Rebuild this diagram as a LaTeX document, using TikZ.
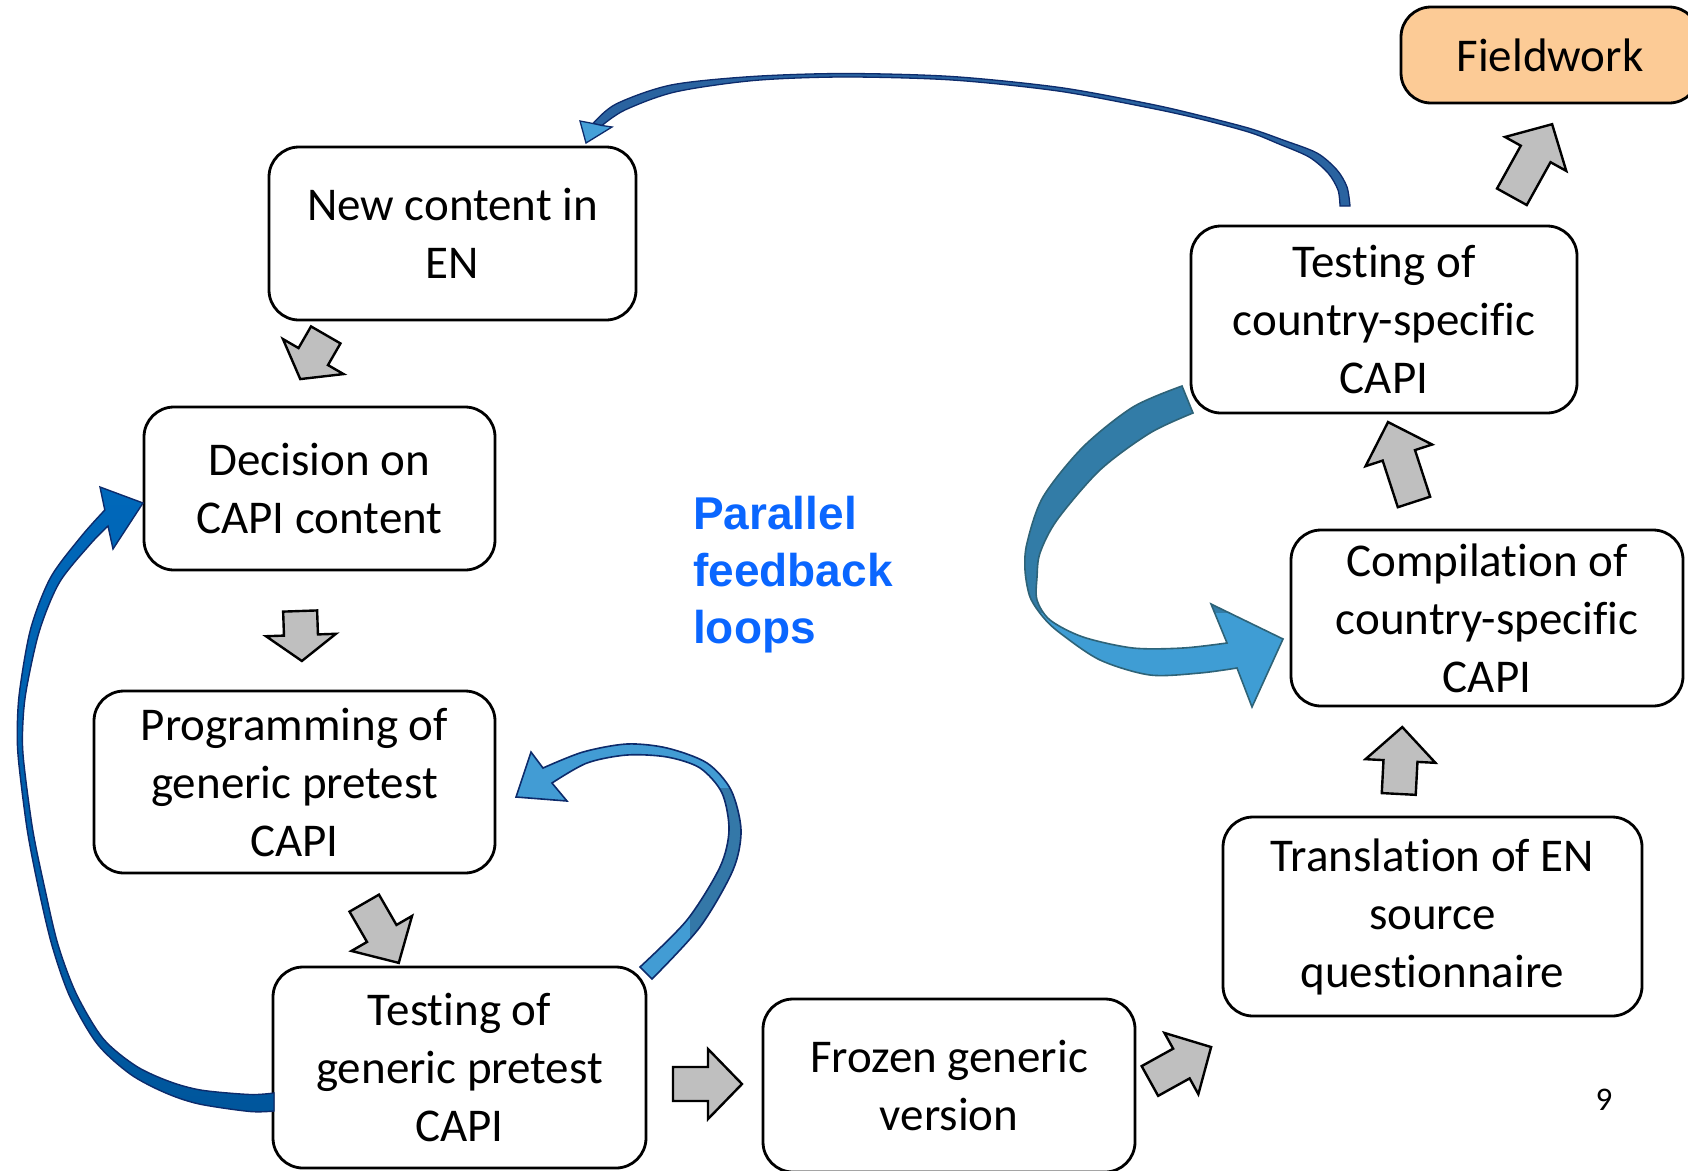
\documentclass[tikz,border=0pt]{standalone}
\usepackage{fontspec}
\setmainfont{Carlito}[Ligatures=NoCommon, Contextuals=NoAlternate]
\newfontfamily\arialfont{Liberation Sans}
\definecolor{gfill}{HTML}{BFBFBF}
\definecolor{peach}{HTML}{FCCB96}
\definecolor{navy}{HTML}{0D2B6B}
\definecolor{pblue}{HTML}{0A66FF}
\definecolor{cOneFill}{HTML}{2A63A0}
\definecolor{cOneHead}{HTML}{45A0D8}
\definecolor{cTwoTop}{HTML}{0068BA}
\definecolor{cTwoBot}{HTML}{00569C}
\definecolor{cThreeLight}{HTML}{429CD4}
\definecolor{cThreeDark}{HTML}{3478A8}
\definecolor{cFourLight}{HTML}{3F9DD4}
\definecolor{cFourDark}{HTML}{327CA7}
\definecolor{cFourLine}{HTML}{2E6378}
\tikzset{
  box/.style={draw=black, line width=2.8pt, rounded corners=30pt, fill=white,
    inner sep=0pt, align=center, font=\fontsize{47}{58}\selectfont},
  grayarrow/.style={fill=gfill, draw=black, line width=2.4pt, line join=miter},
  pics/blockarr/.style 2 args={code={
    \path[grayarrow] ({-#1/2},-17) -- ({#1/2-#2},-17) -- ({#1/2-#2},-35) -- ({#1/2},0)
      -- ({#1/2-#2},35) -- ({#1/2-#2},17) -- ({-#1/2},17) -- cycle;}},
}
\begin{document}
\begin{tikzpicture}[x=1pt,y=-1pt]
\useasboundingbox (0,0) rectangle (1688,1170);
\clip (0,0) rectangle (1688,1170);

% ---------- C4: right loop (testing country -> compilation) ----------
\path[save path=\pathD] plot[smooth] coordinates {(1182,386) (1133,407) (1083,447) (1043,497) (1027,543) (1025,570) (1030,597) (1043,617) (1060,633) (1100,660) (1150,675) (1200,673) (1237,668)}
  -- (1252,707) -- (1283,639) -- (1211,604)
  -- plot[smooth] coordinates {(1227,643) (1183,648) (1133,648) (1083,637) (1050,620) (1037,600) (1037,577) (1040,553) (1057,520) (1100,470) (1150,433) (1193,413)} -- cycle;
\path[fill=cFourLight, use path=\pathD];
\begin{scope}
  \clip (990,370) rectangle (1300,612);
  \path[fill=cFourDark, use path=\pathD];
\end{scope}
\path[draw=cFourLine, line width=1.6pt, line join=miter, use path=\pathD];

% ---------- boxes ----------
\node[box, minimum width=367pt, minimum height=173pt] (new) at (452.5,233.5) {New content in\\EN};
\node[box, minimum width=351pt, minimum height=163pt] (dec) at (319.5,488.5) {Decision on\\CAPI content};
\node[box, minimum width=401pt, minimum height=182pt] (prog) at (294.5,782) {Programming of\\generic pretest\\CAPI};
\node[box, minimum width=373pt, minimum height=201pt] (testg) at (459.5,1067.5) {Testing of\\generic pretest\\CAPI};
\node[box, minimum width=372pt, minimum height=173pt] (frozen) at (949,1085.5) {Frozen generic\\version};
\node[box, minimum width=419pt, minimum height=199pt] (trans) at (1432.5,916.5) {Translation of EN\\source\\questionnaire};
\node[box, minimum width=392pt, minimum height=176pt] (comp) at (1487,618) {Compilation of\\country-specific\\CAPI};
\node[box, minimum width=386pt, minimum height=187pt] (testc) at (1384,319.5) {Testing of\\country-specific\\CAPI};
\node[box, fill=peach, minimum width=298pt, minimum height=96pt] (field) at (1550,55) {Fieldwork};

% ---------- gray block arrows ----------
\pic[rotate=240] at (313,357) {blockarr={51}{26}};
\pic[rotate=-88] at (301,636) {blockarr={50}{26}};
\pic[rotate=-60] at (381.5,933) {blockarr={69}{34}};
\pic[rotate=0] at (707.5,1084) {blockarr={69}{34}};
\pic[rotate=29] at (1180.5,1064) {blockarr={70}{34}};
\pic[rotate=87] at (1400.5,760.5) {blockarr={67}{34}};
\pic[rotate=108] at (1401,462) {blockarr={84}{35}};
\pic[rotate=61] at (1532,160.5) {blockarr={83}{34}};

% ---------- C1: top arc (testing country -> new content) ----------
\path[fill=cOneFill, draw=navy, line width=1.3pt]
  plot[smooth] coordinates {(1350,206) (1347,187) (1337,170) (1317,153) (1283,140) (1250,128.5) (1200,115.5) (1150,104) (1060,87.5) (952,76.5) (844,73.5) (752,76.5) (671,85) (616,104) (593,123.5)}
  -- plot[smooth] coordinates {(602,125.5) (625,110) (675,92) (754,80.5) (844,77) (952,80) (1058,91) (1150,108) (1200,119) (1250,132.5) (1279,144) (1309,157) (1328,173) (1338,190) (1340,206)} -- cycle;
\path[fill=cOneHead, draw=navy, line width=1.3pt, line join=miter]
  (593,123.5) -- (580,121) -- (586,143) -- (612,127) -- (602,125.5) -- cycle;

% ---------- C2: left arc (testing generic -> decision) ----------
\path[top color=cTwoTop, bottom color=cTwoBot, draw=navy, line width=1.4pt, line join=miter]
  plot[smooth] coordinates {(274,1111) (250,1111.5) (198.7,1103.9) (164.8,1092.6) (130.2,1074.1) (96.9,1043.5) (69.8,996.5) (52.1,945.8) (39,890.6) (27.3,830.4) (18.5,760.3) (17.3,726.9) (19.8,689.5) (30.7,628.7) (50.6,577.5) (81.4,536.2) (104.8,510)}
  -- (100,487) -- (143,503) -- (113,549)
  -- plot[smooth] coordinates {(108,526) (90.6,543.8) (59.4,582.5) (39.3,631.3) (26.2,690.5) (22.7,727.1) (23.5,759.7) (32.7,829.6) (45,889.4) (57.9,944.2) (76.2,993.5) (103.1,1038.5) (135.9,1065.9) (169.2,1081.4) (201.3,1090.1) (250,1094.5) (274,1093)} -- cycle;

% ---------- C3: small loop (testing generic -> programming) ----------
\path[save path=\pathC] plot[smooth] coordinates {(652,979) (700,927) (733,870) (741,830) (731,790) (707,763) (667,748) (627,744) (583,752) (543,768)}
  -- (531,752) -- (516,797) -- (567,801)
  -- plot[smooth] coordinates {(552,783) (587,763) (627,755) (667,757) (700,768) (722,793) (729,830) (720,867) (687,920) (640,967)} -- cycle;
\path[fill=cThreeLight, use path=\pathC];
\begin{scope}
  \clip (690,788) rectangle (760,990);
  \path[fill=cThreeDark, use path=\pathC];
\end{scope}
\path[draw=navy, line width=1.6pt, line join=miter, use path=\pathC];

% ---------- texts ----------
\node[anchor=base west, align=left, inner sep=0pt, text=pblue,
  font=\arialfont\bfseries\fontsize{46}{57}\selectfont] (par) at (693,643) {Parallel\\feedback\\loops};
\node[inner sep=0pt, font=\fontsize{33}{40}\selectfont] (pnum) at (1604,1100) {9};
\end{tikzpicture}
\end{document}
